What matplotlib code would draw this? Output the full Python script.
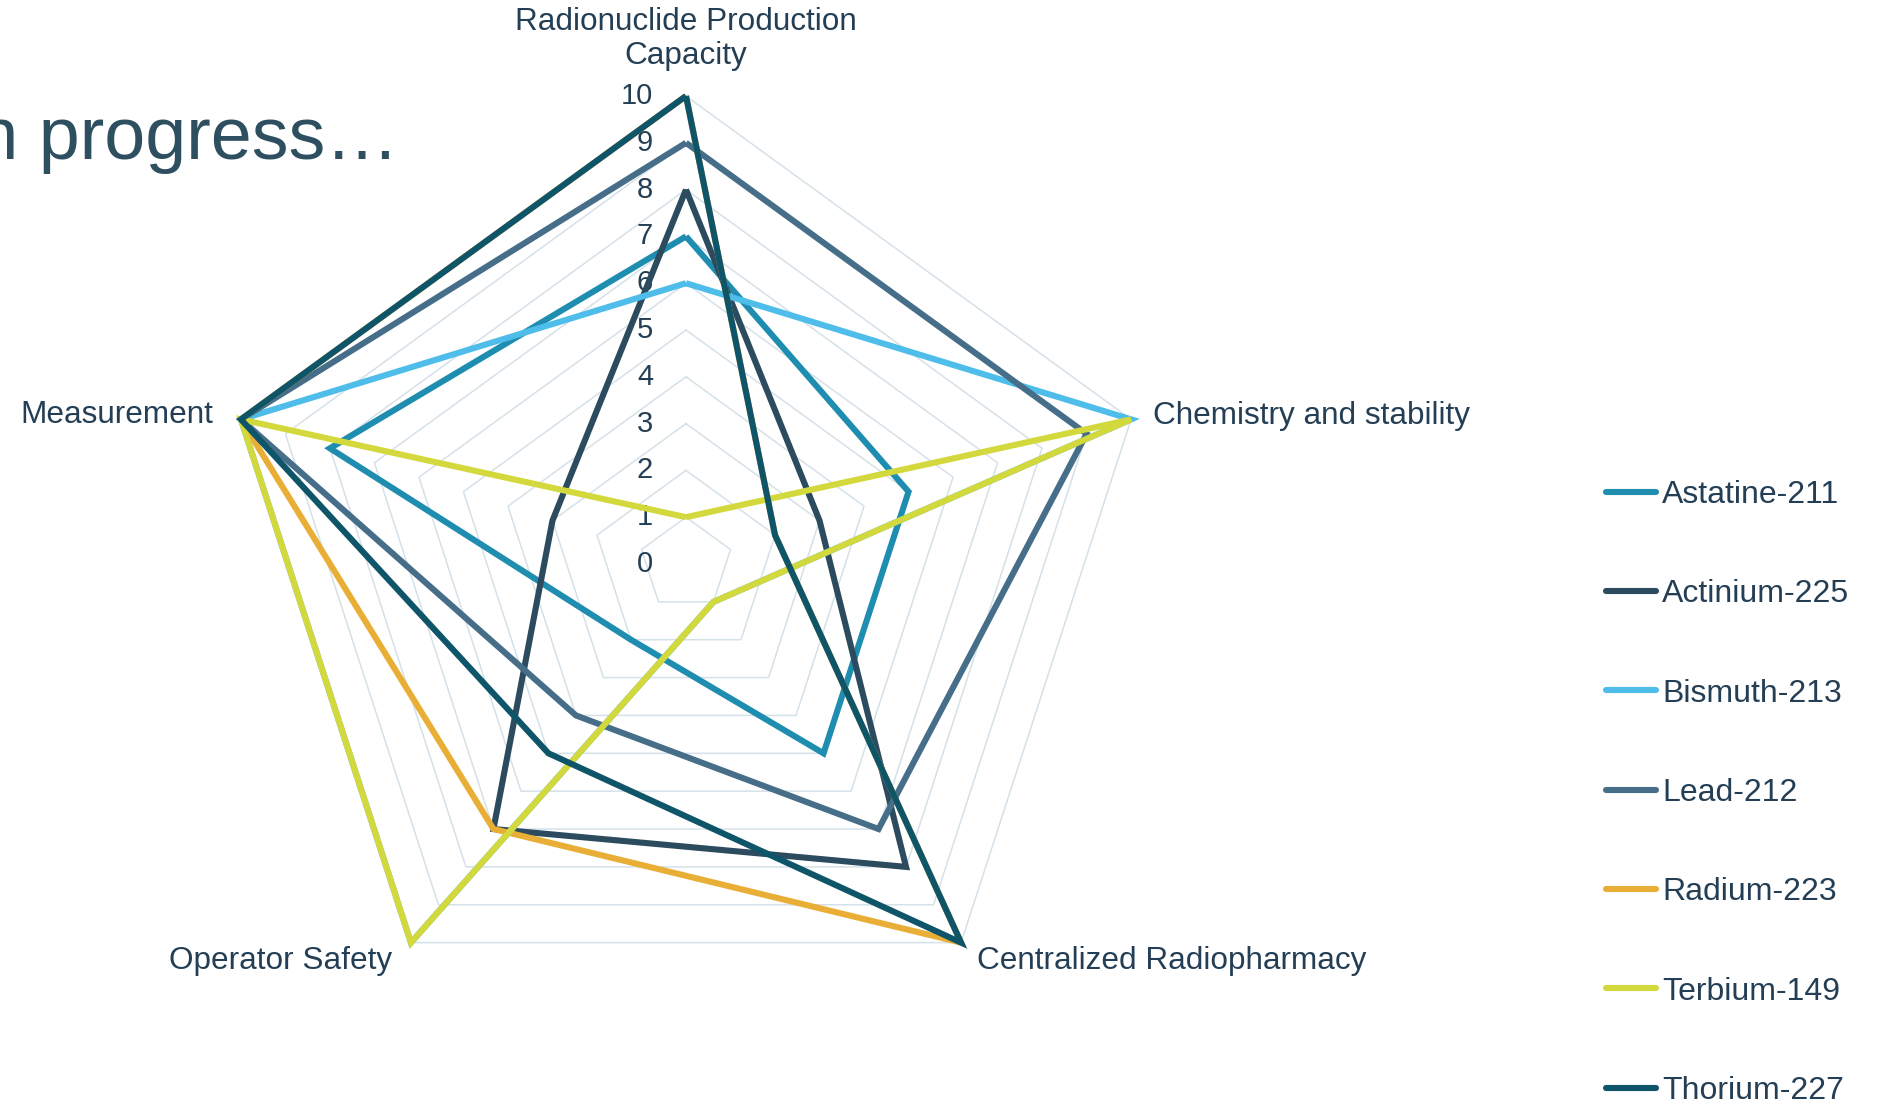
import numpy as np
import matplotlib
matplotlib.use("Agg")
import matplotlib.pyplot as plt
import matplotlib.patheffects as pe

plt.rcParams['font.family'] = ['Liberation Sans', 'DejaVu Sans']

# scores per criterion (0-10), clockwise from the top
categories = ['Radionuclide Production\nCapacity', 'Chemistry and stability',
              'Centralized Radiopharmacy', 'Operator Safety', 'Measurement']
isotopes = ['Astatine-211', 'Actinium-225', 'Bismuth-213', 'Lead-212',
            'Radium-223', 'Terbium-149', 'Thorium-227']
astatine = [7, 5, 5, 2, 8]
actinium = [8, 3, 8, 7, 3]
bismuth = [6, 10, 1, 10, 10]
lead = [9, 9, 7, 4, 10]
radium = [10, 2, 10, 7, 10]
terbium = [1, 10, 1, 10, 10]
thorium = [10, 2, 10, 5, 10]
scale_ticks = list(range(0, 11))

series = [astatine, actinium, bismuth, lead, radium, terbium, thorium]
colors = ['#1E8DB0', '#2C4B5E', '#4FBDEA', '#466E89',
          '#E8AE35', '#D3D93C', '#0F5569']
text_col = '#243F55'

W, H = 1878, 1107
fig = plt.figure(figsize=(W / 100, H / 100), dpi=100)
fig.patch.set_facecolor('white')

# centre of the web and its outer radius, in pixels
cx, cy, R = 686, 564, 468
ax = fig.add_axes([(cx - R) / W, (H - cy - R) / H, 2 * R / W, 2 * R / H],
                  projection='polar')
ax.set_theta_zero_location('N')
ax.set_theta_direction(-1)
ax.set_ylim(0, 10)
ax.set_xticks([])
ax.set_yticks([])
ax.grid(False)
ax.spines['polar'].set_visible(False)
ax.patch.set_alpha(0)

n = len(categories)
theta = np.arange(n) * 2 * np.pi / n
theta_c = np.append(theta, theta[0])

# pentagon rings
for v in scale_ticks[1:]:
    ax.plot(theta_c, [v] * (n + 1), color='#D5E1E9', lw=1.1, zorder=1,
            clip_on=False)

# scale labels up the first spoke
for v in scale_ticks:
    ax.annotate(str(v), xy=(0, v), xytext=(-33, 0), textcoords='offset pixels',
                ha='right', va='center', fontsize=21, color=text_col,
                annotation_clip=False, zorder=2)

shadow = [pe.SimpleLineShadow(offset=(2.5, -2.5), shadow_color='black',
                              alpha=0.12, linewidth=8.5),
          pe.SimpleLineShadow(offset=(2, -2), shadow_color='black',
                              alpha=0.25, linewidth=6),
          pe.Normal()]

for name, vals, col in zip(isotopes, series, colors):
    ax.plot(theta_c, vals + vals[:1], color=col, lw=4.4, label=name,
            solid_joinstyle='miter', solid_capstyle='butt', clip_on=False,
            path_effects=shadow, zorder=3)

# criterion labels around the outside
label_pos = [(0, 57, 'center', 'center'), (22, 3, 'left', 'center'),
             (16, -18, 'left', 'center'), (-19, -18, 'right', 'center'),
             (-28, 4, 'right', 'center')]
for t, cat, (dx, dy, ha, va) in zip(theta, categories, label_pos):
    ax.annotate(cat, xy=(t, 10), xytext=(dx, dy), textcoords='offset pixels',
                ha=ha, va=va, fontsize=22.7, color=text_col,
                linespacing=1.15, annotation_clip=False)

handles, labels = ax.get_legend_handles_labels()
for h in handles:
    h.set_path_effects([])
leg = fig.legend(handles, labels, loc='upper left',
                 bbox_to_anchor=(1606 / W, 1 - 480 / H), frameon=False,
                 fontsize=23, handlelength=1.55, handletextpad=0.2,
                 labelspacing=2.17, borderpad=0, borderaxespad=0)
for t in leg.get_texts():
    t.set_color(text_col)
for h in leg.get_lines():
    h.set_solid_capstyle('round')

fig.text(399 / W, 1 - 139 / H, 'in progress\u2026', ha='right', va='center',
         fontsize=53, color='#2E4F60')

fig.savefig('out.png', dpi=100, facecolor='white')
